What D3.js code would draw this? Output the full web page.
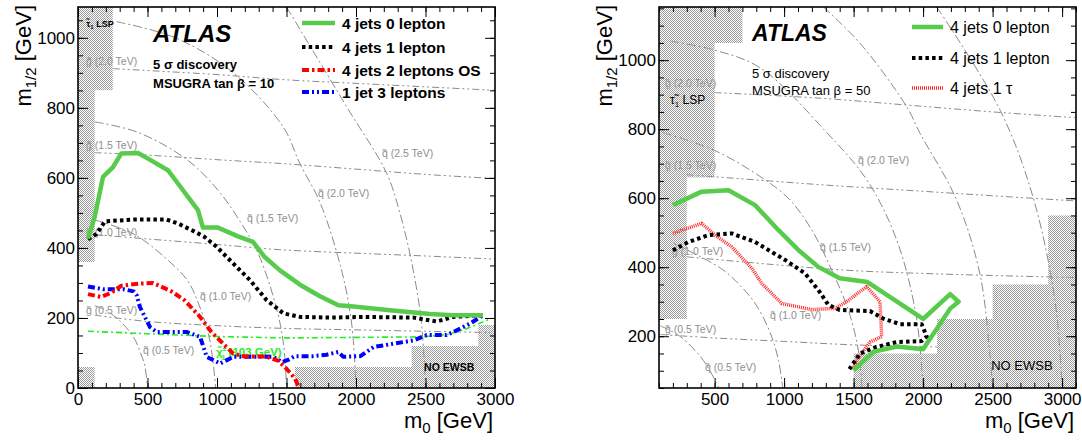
<!DOCTYPE html>
<html><head><meta charset="utf-8">
<script src="https://cdn.jsdelivr.net/npm/d3@7"></script>
<style>body{margin:0;background:#fff}svg{display:block}text{font-family:'Liberation Sans',Arial,Helvetica,sans-serif}</style>
</head><body><svg id="c" width="1082" height="441"></svg>
<script>
// ---------- tick labels ----------
const xTicksL = [0,500,1000,1500,2000,2500,3000];
const yTicksL = [0,200,400,600,800,1000];
const xTicksR = [500,1000,1500,2000,2500,3000];
const yTicksR = [200,400,600,800,1000];

// ---------- left panel (tan beta = 10): contours [m0, m1/2] ----------
const L_0lep = [[72,427],[120,489],[180,603],[252,631],[312,670],[432,671],[504,655],[647,622],[719,584],[791,546],[863,508],[899,458],[1007,458],[1151,433],[1259,417],[1343,374],[1453,336],[1597,295],[1741,262],[1873,236],[1981,233],[2245,222],[2532,211],[2698,208],[2914,208]];
const L_1lep = [[72,425],[134,440],[194,476],[400,481],[638,481],[719,470],[842,446],[911,431],[998,403],[1118,355],[1237,308],[1357,251],[1478,213],[1597,203],[1813,201],[2053,203],[2412,201],[2580,190],[2701,203],[2916,208]];
const L_2lepOS = [[72,268],[165,260],[240,272],[312,292],[432,298],[540,300],[672,276],[768,250],[878,203],[960,160],[1055,122],[1118,98],[1200,90],[1350,90],[1440,78],[1500,55],[1561,27],[1590,0]];
const L_3lep = [[72,290],[182,282],[326,282],[400,276],[422,265],[446,231],[518,174],[566,160],[782,160],[878,146],[926,89],[1022,70],[1118,89],[1405,89],[1470,74],[1520,82],[1560,91],[1693,91],[1789,95],[1873,103],[1909,89],[2031,91],[2127,117],[2414,136],[2508,151],[2652,151],[2701,160],[2820,184],[2916,208]];
const L_chargino = [[72,162],[500,155],[1000,147],[1500,143],[2460,146],[2650,152],[2800,170],[2950,195]];
// iso-mass lines
const L_q05 = [[120,235],[200,222],[300,192],[400,145],[450,100],[480,65],[500,0]];
const L_q10 = [[120,480],[400,440],[647,365],[791,305],[863,245],[935,160],[970,80],[990,0]];
const L_q15 = [[120,760],[432,730],[791,650],[1007,565],[1151,485],[1295,385],[1430,225],[1480,120],[1500,0]];
const L_q20 = [[278,1046],[700,1000],[1118,900],[1477,745],[1597,640],[1741,530],[1900,330],[1970,180],[2000,0]];
const L_q25 = [[1500,1088],[1933,803],[2221,613],[2317,498],[2400,360],[2470,190],[2500,0]];
const L_g05 = [[120,208],[500,190],[1000,178],[1500,170],[2000,166],[2500,162],[3000,158]];
const L_g10 = [[120,438],[456,427],[1000,410],[1450,395],[2000,385],[2500,377],[3000,368]];
const L_g15 = [[120,672],[500,665],[1000,652],[1500,640],[2000,625],[2500,610],[3000,598]];
const L_g20 = [[250,912],[1000,895],[1500,880],[2000,870],[2500,860],[3000,850]];
// excluded regions
const L_lsp = [[0,360],[120,360],[120,850],[250,850],[250,1100],[0,1100]];
const L_low = [[0,0],[120,0],[120,60],[0,60]];
const L_noewsb = [[1560,0],[1560,60],[2400,60],[2400,120],[2880,120],[2880,180],[3000,180],[3000,0]];

// ---------- right panel (tan beta = 50) ----------
const R_0lep = [[200,580],[407,619],[600,623],[791,580],[958,508],[1102,450],[1246,401],[1400,368],[1600,357],[2000,250],[2195,322],[2255,300],[2195,280],[2000,162],[1810,170],[1642,155],[1500,100]];
const R_1lep = [[200,449],[311,473],[455,493],[623,498],[791,473],[1007,421],[1151,382],[1246,334],[1318,291],[1400,276],[1618,273],[1714,251],[1834,235],[1990,235],[2026,199],[1990,186],[1810,183],[1666,169],[1546,150],[1470,105]];
const R_1tau = [[200,498],[407,527],[503,493],[623,459],[767,397],[839,353],[983,295],[1199,277],[1368,281],[1450,300],[1594,344],[1690,300],[1702,199],[1618,183],[1522,131],[1495,105]];
const R_q05 = [[110,230],[250,200],[400,140],[480,90],[530,50]];
const R_q10 = [[200,470],[551,395],[700,340],[800,290],[900,210],[960,130],[990,50]];
const R_q15 = [[130,790],[491,740],[800,670],[1030,600],[1199,508],[1342,392],[1462,276],[1534,160],[1560,50]];
const R_q20 = [[180,1055],[491,1030],[827,978],[1307,790],[1600,650],[1810,479],[1950,260],[2000,50]];
const R_q25 = [[1282,1154],[1546,1049],[1882,865],[1978,788],[2241,595],[2409,380],[2480,150],[2500,50]];
const R_q30 = [[2098,1154],[2553,856],[2793,600],[2950,300],[3000,50]];
const R_g05 = [[110,205],[500,195],[1000,185],[1500,175],[2100,169]];
const R_g10 = [[300,430],[1000,405],[1500,390],[2000,382],[2500,376],[3100,370]];
const R_g15 = [[300,668],[500,662],[1300,638],[2000,620],[2500,607],[3100,592]];
const R_g20 = [[500,906],[1250,890],[2000,866],[2500,850],[3100,833]];
const R_lsp = [[100,250],[300,250],[300,660],[500,660],[500,1050],[700,1050],[700,1160],[100,1160]];
const R_noewsb = [[1500,50],[1500,150],[2100,150],[2100,250],[2500,250],[2500,350],[2900,350],[2900,550],[3100,550],[3100,50]];

// ---------- styles ----------
const GREEN = {stroke:'#58cb4c', w:4.5, dash:null};
const BLACK = {stroke:'#000', w:4, dash:'3.5,3.2'};
const RED = {stroke:'#ff0000', w:4, dash:'7,3,2.5,3'};
const BLUE = {stroke:'#0000ff', w:4, dash:'7,3,2,3,2,3'};
const REDTAU = {stroke:'#ff2a2a', w:3.5, dash:'1,1'};
const GREY = '#8a8a8a';
const FONT = "'Liberation Sans',Arial,Helvetica,sans-serif";

const svg = d3.select('#c');
const defs = svg.append('defs');
const pat = defs.append('pattern').attr('id','hatch').attr('width',2).attr('height',2).attr('patternUnits','userSpaceOnUse');
pat.append('rect').attr('width',1).attr('height',1).attr('fill','#9c9c9c');
pat.append('rect').attr('x',1).attr('y',1).attr('width',1).attr('height',1).attr('fill','#9c9c9c');

const T = (s) => s.replace('q~','q\u0303').replace('g~','g\u0303');

function drawPanel(p) {
  const g = svg.append('g');
  const x = d3.scaleLinear().domain(p.xDomain).range(p.xRange);
  const y = d3.scaleLinear().domain(p.yDomain).range([388, 7]);
  const id = 'clip' + p.name;
  defs.append('clipPath').attr('id', id).append('rect')
    .attr('x', p.xRange[0]).attr('y', 7).attr('width', p.xRange[1]-p.xRange[0]).attr('height', 381);
  const plot = g.append('g').attr('clip-path', `url(#${id})`);
  const line = d3.line().x(d=>x(d[0])).y(d=>y(d[1]));
  const smooth = d3.line().x(d=>x(d[0])).y(d=>y(d[1])).curve(d3.curveCatmullRom.alpha(0.5));

  p.squarks.forEach(s => plot.append('path').attr('d', smooth(s)).attr('fill','none')
    .attr('stroke', GREY).attr('stroke-width',1).attr('stroke-dasharray','9,3,2,3'));
  p.gluinos.forEach(s => plot.append('path').attr('d', smooth(s)).attr('fill','none')
    .attr('stroke', GREY).attr('stroke-width',1).attr('stroke-dasharray','7,3,2,3,2,3'));
  p.isoLabels.forEach(l => plot.append('text').attr('x', x(l[1])).attr('y', y(l[2]))
    .attr('font-size', 10.5).attr('fill', '#8f8f8f').text(T(l[0])));
  if (p.extra) p.extra(plot, x, y, line);
  p.hatch.forEach(h => plot.append('path').attr('d', line(h)+'Z').attr('fill','url(#hatch)'));
  p.texts(plot, x, y);
  p.contours.forEach(c => {
    const path = plot.append('path').attr('d', line(c.data)).attr('fill','none')
      .attr('stroke', c.s.stroke).attr('stroke-width', c.s.w).attr('stroke-linejoin','round');
    if (c.s.dash) path.attr('stroke-dasharray', c.s.dash);
  });

  // axes
  const styleAxis = sel => { sel.select('.domain').remove(); sel.attr('font-size',17).attr('font-family',FONT);
    sel.selectAll('text').attr('fill','#000'); sel.selectAll('line').attr('stroke','#000').attr('stroke-width',1); };
  const xMinor = d3.range(p.xDomain[0], p.xDomain[1]+1, 100);
  const yMinor = d3.range(p.yDomain[0] - p.yDomain[0]%50, p.yDomain[1], 50).filter(v=>v>=p.yDomain[0]);
  g.append('g').attr('transform','translate(0,388)').call(d3.axisBottom(x).tickValues(xMinor).tickSize(-5).tickFormat('')).call(styleAxis);
  g.append('g').attr('transform','translate(0,388)').call(d3.axisBottom(x).tickValues(p.xTicks).tickSize(-10).tickPadding(5).tickFormat(d3.format('d'))).call(styleAxis);
  g.append('g').attr('transform','translate(0,7)').call(d3.axisTop(x).tickValues(xMinor).tickSize(-5).tickFormat('')).call(styleAxis);
  g.append('g').attr('transform','translate(0,7)').call(d3.axisTop(x).tickValues(p.xTicks).tickSize(-10).tickFormat('')).call(styleAxis);
  g.append('g').attr('transform',`translate(${p.xRange[0]},0)`).call(d3.axisLeft(y).tickValues(yMinor).tickSize(-5).tickFormat('')).call(styleAxis);
  g.append('g').attr('transform',`translate(${p.xRange[0]},0)`).call(d3.axisLeft(y).tickValues(p.yTicks).tickSize(-10).tickPadding(3).tickFormat(d3.format('d'))).call(styleAxis);
  g.append('g').attr('transform',`translate(${p.xRange[1]},0)`).call(d3.axisRight(y).tickValues(yMinor).tickSize(-5).tickFormat('')).call(styleAxis);
  g.append('g').attr('transform',`translate(${p.xRange[1]},0)`).call(d3.axisRight(y).tickValues(p.yTicks).tickSize(-10).tickFormat('')).call(styleAxis);
  g.append('rect').attr('x', p.xRange[0]).attr('y', 7).attr('width', p.xRange[1]-p.xRange[0]).attr('height', 381)
    .attr('fill','none').attr('stroke','#000').attr('stroke-width',1.6);

  // axis titles
  const yt = svg.append('text').attr('transform', `translate(${p.yTitleX},5) rotate(-90)`).attr('text-anchor','end').attr('font-size',22);
  yt.append('tspan').text('m');
  yt.append('tspan').attr('font-size',15).attr('dy',5).text('1/2');
  yt.append('tspan').attr('dy',-5).text(' [GeV]');
  const xt = svg.append('text').attr('x', p.xRange[1]-2).attr('y', 428).attr('text-anchor','end').attr('font-size',22);
  xt.append('tspan').text('m');
  xt.append('tspan').attr('font-size',15).attr('dy',5).text('0');
  xt.append('tspan').attr('dy',-5).text(' [GeV]');

  // legend
  p.legend.items.forEach((it, i) => {
    const yy = p.legend.rows[i];
    const l = svg.append('line').attr('x1', p.legend.x0).attr('x2', p.legend.x1).attr('y1', yy).attr('y2', yy)
      .attr('stroke', it.s.stroke).attr('stroke-width', it.s.w);
    if (it.s.dash) l.attr('stroke-dasharray', it.s.dash);
    svg.append('text').attr('x', p.legend.tx).attr('y', yy+5.5).attr('font-size', p.legend.fs)
      .attr('font-weight', p.legend.bold ? 'bold':'normal').text(it.label);
  });
}

// ---------- left ----------
drawPanel({
  name:'L', xDomain:[0,3000], xRange:[78,495], yDomain:[0,1088], xTicks:xTicksL, yTicks:yTicksL, yTitleX:31,
  squarks:[L_q05,L_q10,L_q15,L_q20,L_q25], gluinos:[L_g05,L_g10,L_g15,L_g20],
  isoLabels:[['g~ (2.0 TeV)',58,922],['g~ (1.5 TeV)',58,682],['q~ (1.0 TeV)',58,433],['g~ (0.5 TeV)',58,211],
    ['q~ (0.5 TeV)',468,96],['q~ (1.0 TeV)',878,251],['q~ (1.5 TeV)',1216,473],['q~ (2.0 TeV)',1727,545],['q~ (2.5 TeV)',2187,659]],
  extra:(plot,x,y,line)=>{
    plot.append('path').attr('d', line(L_chargino)).attr('fill','none').attr('stroke','#22ee22').attr('stroke-width',1.6).attr('stroke-dasharray','6,3,2,3');
    const t = plot.append('text').attr('x', x(993)).attr('y', y(91)).attr('font-size',11.5).attr('font-weight','bold').attr('fill','#22ee22');
    t.append('tspan').text('\u03C7\u0303');
    t.append('tspan').attr('font-size',7).attr('dy',-5).text('\u00B1');
    t.append('tspan').attr('font-size',7).attr('dx',-5).attr('dy',9).text('1');
    t.append('tspan').attr('dy',-4).text(' (103 GeV)');
  },
  hatch:[L_lsp,L_low,L_noewsb],
  texts:(plot,x,y)=>{
    const t = plot.append('text').attr('x', x(60)).attr('y', y(1030)).attr('font-size',9).attr('font-weight','bold');
    t.append('tspan').text('\u03C4\u0303');
    t.append('tspan').attr('font-size',6).attr('dy',2).text('1');
    t.append('tspan').attr('dy',-2).text(' LSP');
    plot.append('text').attr('x', x(2490)).attr('y', y(48)).attr('font-size',10.5).attr('font-weight','bold').text('NO EWSB');
    plot.append('text').attr('x', x(540)).attr('y', y(988)).attr('font-size',24).attr('font-weight','bold').attr('font-style','italic').text('ATLAS');
    plot.append('text').attr('x', x(540)).attr('y', y(910)).attr('font-size',13).attr('font-weight','bold').text('5 \u03C3 discovery');
    plot.append('text').attr('x', x(540)).attr('y', y(856)).attr('font-size',13).attr('font-weight','bold').text('MSUGRA tan \u03B2 = 10');
  },
  contours:[{data:L_3lep,s:BLUE},{data:L_2lepOS,s:RED},{data:L_1lep,s:BLACK},{data:L_0lep,s:GREEN}],
  legend:{x0:302,x1:335,tx:342,rows:[23,47,70,92],fs:15.5,bold:true,
    items:[{label:'4 jets 0 lepton',s:GREEN},{label:'4 jets 1 lepton',s:BLACK},{label:'4 jets 2 leptons OS',s:RED},{label:'1 jet 3 leptons',s:BLUE}]}
});

// ---------- right ----------
drawPanel({
  name:'R', xDomain:[100,3100], xRange:[659,1076], yDomain:[50,1154], xTicks:xTicksR, yTicks:yTicksR, yTitleX:612,
  squarks:[R_q05,R_q10,R_q15,R_q20,R_q25,R_q30], gluinos:[R_g05,R_g10,R_g15,R_g20],
  isoLabels:[['g~ (2.0 TeV)',143,922],['g~ (1.5 TeV)',143,685],['g~ (1.0 TeV)',194,436],['g~ (0.5 TeV)',143,209],
    ['q~ (0.5 TeV)',431,99],['q~ (1.0 TeV)',899,250],['q~ (1.5 TeV)',1258,447],['q~ (2.0 TeV)',1532,699]],
  hatch:[R_lsp,R_noewsb],
  texts:(plot,x,y)=>{
    const t = plot.append('text').attr('x', x(179)).attr('y', y(873)).attr('font-size',12);
    t.append('tspan').text('\u03C4\u0303');
    t.append('tspan').attr('font-size',8).attr('dy',3).text('1');
    t.append('tspan').attr('dy',-3).text(' LSP');
    plot.append('text').attr('x', x(2490)).attr('y', y(102)).attr('font-size',13).text('NO EWSB');
    plot.append('text').attr('x', x(769)).attr('y', y(1056)).attr('font-size',23).attr('font-weight','bold').attr('font-style','italic').text('ATLAS');
    plot.append('text').attr('x', x(769)).attr('y', y(948)).attr('font-size',13).text('5 \u03C3 discovery');
    plot.append('text').attr('x', x(769)).attr('y', y(899)).attr('font-size',13).text('MSUGRA tan \u03B2 = 50');
  },
  contours:[{data:R_1tau,s:REDTAU},{data:R_1lep,s:BLACK},{data:R_0lep,s:GREEN}],
  legend:{x0:912,x1:943,tx:950,rows:[27,58,88],fs:16,bold:false,
    items:[{label:'4 jets 0 lepton',s:GREEN},{label:'4 jets 1 lepton',s:BLACK},{label:'4 jets 1 \u03C4',s:REDTAU}]}
});
</script>
</body></html>
